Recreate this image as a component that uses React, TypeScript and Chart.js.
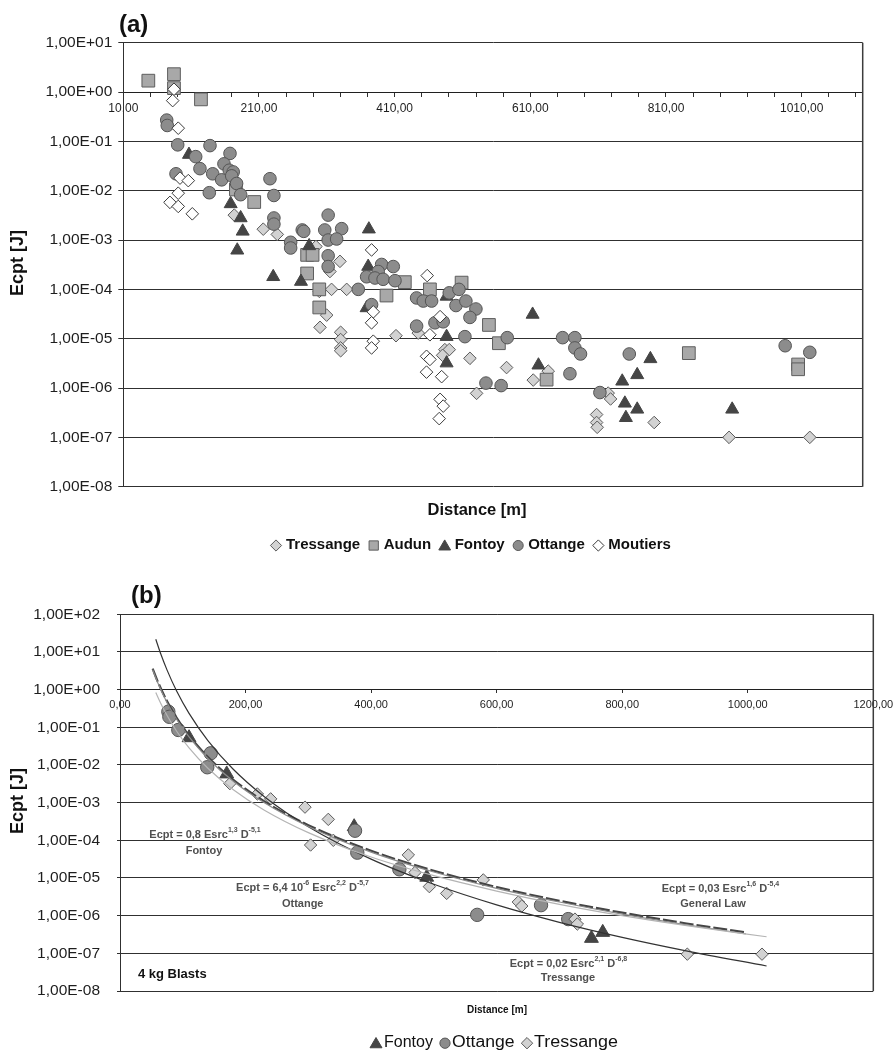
import React, { useEffect, useRef } from 'react';
import { Chart, registerables } from 'chart.js';
Chart.register(...registerables);

const FONT = '"Liberation Sans", Arial, Helvetica, sans-serif';

// ---------------- Panel (a) data ----------------
const tressangeA_x = [173.6, 216.3, 237, 294, 329.4, 314.6, 317, 339.3, 309.8, 300, 330.4, 330.4, 330.4, 330.4, 412, 444.8, 484, 490.5, 480.7, 521, 575, 530.8, 614.3, 636.4, 707.7, 707.7, 708.6, 724.8, 728.3, 792.6, 903, 1022, 299];
const tressangeA_y = [3.2e-3, 1.66e-3, 1.3e-3, 7.4e-4, 3.7e-4, 2.3e-4, 1.0e-4, 1.0e-4, 3.0e-5, 1.7e-5, 1.35e-5, 9.6e-6, 6.5e-6, 5.7e-6, 1.15e-5, 1.3e-5, 6.0e-6, 6.0e-6, 4.6e-6, 4.0e-6, 2.6e-6, 7.8e-7, 1.45e-6, 2.2e-6, 2.9e-7, 2.0e-7, 1.6e-7, 7.9e-7, 6.0e-7, 2.0e-7, 1.0e-7, 1.0e-7, 9.1e-5];

const audunA_x = [46.9, 84.7, 84.7, 124.5, 176, 203, 281, 289, 281, 298.9, 298.9, 398, 425, 462, 508.7, 549, 563.7, 634, 843.7, 1004.8, 1004.8];
const audunA_y = [1.7, 2.3, 1.2, 0.71, 0.0106, 5.9e-3, 5.0e-4, 5.0e-4, 2.1e-4, 1.0e-4, 4.3e-5, 7.5e-5, 1.4e-4, 1.0e-4, 1.37e-4, 1.9e-5, 8.1e-6, 1.48e-6, 5.1e-6, 3.0e-6, 2.4e-6];

const fontoyA_x = [106.8, 168.3, 183, 186, 178, 231, 271.9, 284, 372, 371, 368.7, 486.6, 486.6, 486.6, 613.4, 622, 787, 767.6, 745.5, 749.4, 767.6, 750.9, 907.6];
const fontoyA_y = [0.054, 5.4e-3, 2.8e-3, 1.5e-3, 6.2e-4, 1.8e-4, 1.44e-4, 7.6e-4, 1.66e-3, 2.9e-4, 4.2e-5, 7.2e-5, 1.1e-5, 3.2e-6, 3.1e-5, 2.9e-6, 3.9e-6, 1.85e-6, 1.37e-6, 4.9e-7, 3.7e-7, 2.5e-7, 3.7e-7];

const ottangeA_x = [74, 74.8, 90.2, 137.8, 116.7, 123, 87.7, 141.8, 155, 167.3, 158.4, 166.2, 172, 169.8, 177, 183, 136.8, 226.2, 232, 232, 232, 256.7, 256.7, 273.8, 276, 312, 307, 331.9, 312, 324.5, 312, 312, 356.4, 376, 390.8, 385.8, 368.7, 381, 393, 408, 410.5, 442.4, 452.2, 464.5, 442.4, 469.4, 481.6, 490.5, 504.8, 500.4, 515, 529.8, 521, 513.6, 576, 657.6, 675.7, 675.7, 684, 668.4, 544.6, 567, 755.9, 712.6, 985.7, 1022];
const ottangeA_y = [0.27, 0.21, 0.085, 0.082, 0.049, 0.028, 0.022, 0.022, 0.0166, 0.057, 0.035, 0.026, 0.024, 0.02, 0.014, 8.3e-3, 9.1e-3, 0.0175, 8.0e-3, 2.8e-3, 2.1e-3, 9.0e-4, 6.9e-4, 1.6e-3, 1.5e-3, 3.2e-3, 1.6e-3, 1.7e-3, 1.0e-3, 1.05e-3, 4.8e-4, 2.9e-4, 1.0e-4, 4.9e-5, 3.2e-4, 2.3e-4, 1.8e-4, 1.7e-4, 1.6e-4, 2.9e-4, 1.5e-4, 6.7e-5, 5.8e-5, 5.8e-5, 1.8e-5, 2.1e-5, 2.2e-5, 8.5e-5, 1.0e-4, 4.7e-5, 5.8e-5, 4.0e-5, 2.7e-5, 1.1e-5, 1.05e-5, 1.05e-5, 1.05e-5, 6.5e-6, 4.9e-6, 1.95e-6, 1.26e-6, 1.12e-6, 4.9e-6, 8.1e-7, 7.2e-6, 5.3e-6];

const moutiersA_x = [84.7, 82.8, 91, 93.6, 105.8, 91, 78.8, 91, 111.7, 376, 458, 378.5, 376, 378.5, 376, 477, 462, 457, 462, 457, 479.3, 477, 481.6, 475.7];
const moutiersA_y = [1.14, 0.67, 0.185, 0.018, 0.016, 8.9e-3, 5.8e-3, 4.8e-3, 3.4e-3, 6.3e-4, 1.9e-4, 3.5e-5, 2.1e-5, 8.9e-6, 6.5e-6, 2.8e-5, 1.2e-5, 4.4e-6, 3.8e-6, 2.1e-6, 1.7e-6, 5.9e-7, 4.3e-7, 2.4e-7];

const yTicksA = [1e-8, 1e-7, 1e-6, 1e-5, 1e-4, 1e-3, 1e-2, 1e-1, 1, 10];
const xMajorA = [10, 210, 410, 610, 810, 1010];
const xLabelsA = ['10,00', '210,00', '410,00', '610,00', '810,00', '1010,00'];
const X_MIN_A = 10, X_MAX_A = 1100, X_MINOR_A = 40;

// ---------------- Panel (b) data ----------------
const fontoyB_x = [110, 170, 373, 488.6, 751, 769];
const fontoyB_y = [0.053, 5.8e-3, 2.3e-4, 1.05e-5, 2.5e-7, 3.6e-7];

const ottangeB_x = [77, 78.6, 92.9, 144.5, 139, 374.4, 378, 445, 569, 670.7, 714];
const ottangeB_y = [0.26, 0.19, 0.085, 0.0204, 8.7e-3, 1.8e-4, 4.7e-5, 1.7e-5, 1.05e-6, 1.9e-6, 8.1e-7];

const tressangeB_x = [175, 218.8, 240, 294.7, 331.8, 303.6, 339.8, 459.3, 469.9, 492.8, 520.4, 578.7, 634.5, 640, 724.8, 728.5, 903.7, 1022.7];
const tressangeB_y = [3.2e-3, 1.7e-3, 1.26e-3, 7.6e-4, 3.6e-4, 7.5e-5, 1.0e-4, 4.1e-5, 1.4e-5, 5.9e-6, 3.9e-6, 8.9e-6, 2.3e-6, 1.8e-6, 8.1e-7, 6.0e-7, 9.5e-8, 9.5e-8];

// fitted curves
const lawTressange_x = [57, 65, 75, 90, 110, 140, 180, 230, 300, 400, 500, 600, 700, 800, 900, 1030];
const lawTressange_y = [21.8, 8.8, 3.3, 0.93, 0.234, 0.0443, 7.8e-3, 1.44e-3, 2.3e-4, 3.16e-5, 6.8e-6, 1.93e-6, 6.65e-7, 2.65e-7, 1.18e-7, 4.6e-8];
const lawGeneral_x = [52, 60, 75, 90, 110, 140, 180, 230, 300, 400, 500, 600, 700, 800, 900, 997];
const lawGeneral_y = [3.6, 1.66, 0.49, 0.181, 0.0606, 0.01625, 4.1e-3, 1.08e-3, 2.53e-4, 5.26e-5, 1.56e-5, 5.75e-6, 2.48e-6, 1.2e-6, 6.28e-7, 3.6e-7];
const lawFontoy_x = [57, 65, 75, 90, 110, 140, 180, 230, 300, 400, 500, 600, 700, 800, 900, 1030];
const lawFontoy_y = [0.84, 0.43, 0.205, 0.08, 0.0284, 8.2e-3, 2.24e-3, 6.3e-4, 1.6e-4, 3.6e-5, 1.15e-5, 4.5e-6, 2.0e-6, 1.0e-6, 5.5e-7, 2.75e-7];
const lawOttange_x = [52, 60, 75, 90, 110, 140, 180, 230, 300, 400, 500, 600, 700, 800, 900, 997];
const lawOttange_y = [3.4, 1.55, 0.45, 0.166, 0.0555, 0.0149, 3.75e-3, 9.9e-4, 2.33e-4, 4.85e-5, 1.44e-5, 5.3e-6, 2.3e-6, 1.1e-6, 5.8e-7, 3.3e-7];

const yTicksB = [1e-8, 1e-7, 1e-6, 1e-5, 1e-4, 1e-3, 1e-2, 1e-1, 1, 10, 100];
const xMajorB = [0, 200, 400, 600, 800, 1000, 1200];
const xLabelsB = ['0,00', '200,00', '400,00', '600,00', '800,00', '1000,00', '1200,00'];

const legendA = ['Tressange', 'Audun', 'Fontoy', 'Ottange', 'Moutiers'];
const legendB = ['Fontoy', 'Ottange', 'Tressange'];

// ---------------- helpers ----------------
const pts = (xs: number[], ys: number[]) => xs.map((x, i) => ({ x, y: ys[i] }));

function fmtE(v: number) {
  const e = Math.round(Math.log10(v));
  return '1,00E' + (e >= 0 ? '+' : '-') + String(Math.abs(e)).padStart(2, '0');
}

const STY: Record<string, any> = {
  Tressange: { pointStyle: 'rectRot', backgroundColor: '#d2d2d2', borderColor: '#5a5a5a', borderWidth: 1, pointRadius: 6.3 },
  Audun: { pointStyle: 'rect', backgroundColor: '#a8a8a8', borderColor: '#5e5e5e', borderWidth: 1, pointRadius: 9 },
  Fontoy: { pointStyle: 'triangle', backgroundColor: '#454545', borderColor: '#454545', borderWidth: 1, pointRadius: 7.5 },
  Ottange: { pointStyle: 'circle', backgroundColor: '#8c8c8c', borderColor: '#555555', borderWidth: 1, pointRadius: 6.3 },
  Moutiers: { pointStyle: 'rectRot', backgroundColor: '#ffffff', borderColor: '#3a3a3a', borderWidth: 1, pointRadius: 6.3 },
};

function drawMarker(ctx: CanvasRenderingContext2D, name: string, x: number, y: number, s: number) {
  const st = STY[name];
  ctx.save();
  ctx.fillStyle = st.backgroundColor;
  ctx.strokeStyle = st.borderColor;
  ctx.lineWidth = 1;
  ctx.beginPath();
  if (st.pointStyle === 'rectRot') {
    ctx.moveTo(x, y - s); ctx.lineTo(x + s, y); ctx.lineTo(x, y + s); ctx.lineTo(x - s, y); ctx.closePath();
  } else if (st.pointStyle === 'rect') {
    ctx.rect(x - s * 0.8, y - s * 0.8, s * 1.6, s * 1.6);
  } else if (st.pointStyle === 'triangle') {
    ctx.moveTo(x, y - s); ctx.lineTo(x + s * 1.05, y + s * 0.8); ctx.lineTo(x - s * 1.05, y + s * 0.8); ctx.closePath();
  } else {
    ctx.arc(x, y, s * 0.9, 0, Math.PI * 2);
  }
  ctx.fill(); ctx.stroke();
  ctx.restore();
}

function drawRich(ctx: CanvasRenderingContext2D, parts: [string, boolean][], cx: number, cy: number, size: number, color: string) {
  const base = `bold ${size}px ${FONT}`;
  const sup = `bold ${Math.round(size * 0.64)}px ${FONT}`;
  ctx.save();
  ctx.fillStyle = color;
  ctx.textAlign = 'left';
  ctx.textBaseline = 'middle';
  let w = 0;
  for (const [t, s] of parts) { ctx.font = s ? sup : base; w += ctx.measureText(t).width; }
  let x = cx - w / 2;
  for (const [t, s] of parts) {
    ctx.font = s ? sup : base;
    ctx.fillText(t, x, s ? cy - size * 0.42 : cy);
    x += ctx.measureText(t).width;
  }
  ctx.restore();
}

function drawText(ctx: CanvasRenderingContext2D, t: string, x: number, y: number, font: string, color: string, align: CanvasTextAlign = 'center', rot = 0, sx = 1) {
  ctx.save();
  ctx.font = font;
  ctx.fillStyle = color;
  ctx.textAlign = align;
  ctx.textBaseline = 'middle';
  ctx.translate(x, y);
  if (rot) ctx.rotate(rot);
  if (sx !== 1) ctx.scale(sx, 1);
  ctx.fillText(t, 0, 0);
  ctx.restore();
}

const framePlugin = {
  id: 'frame',
  beforeDatasetsDraw(chart: any) {
    const { ctx, chartArea: a } = chart;
    ctx.save();
    ctx.strokeStyle = '#3c3c3c';
    ctx.lineWidth = 1.5;
    ctx.beginPath();
    ctx.moveTo(a.right, a.top); ctx.lineTo(a.right, a.bottom);
    ctx.stroke();
    ctx.restore();
  },
};

function yScale(ticks: number[], min: number, max: number, width: number, pad: number, tl: number) {
  return {
    type: 'logarithmic',
    position: 'left',
    min, max,
    afterBuildTicks: (s: any) => { s.ticks = ticks.map((v) => ({ value: v })); },
    afterFit: (s: any) => { s.width = width; },
    ticks: { autoSkip: false, padding: pad, color: '#1e1e1e', font: { family: FONT, size: 15.5 }, callback: (v: any) => fmtE(Number(v)) },
    grid: { color: '#303030', lineWidth: 1, tickLength: tl, tickColor: '#303030' },
    border: { color: '#303030', width: 1 },
  };
}

function configA(): any {
  const ds = (name: string, xs: number[], ys: number[], order: number) => ({
    label: name, data: pts(xs, ys), order, ...STY[name], pointHoverRadius: STY[name].pointRadius,
  });
  return {
    type: 'scatter',
    data: {
      datasets: [
        ds('Tressange', tressangeA_x, tressangeA_y, 5),
        ds('Audun', audunA_x, audunA_y, 4),
        ds('Fontoy', fontoyA_x, fontoyA_y, 3),
        ds('Ottange', ottangeA_x, ottangeA_y, 2),
        ds('Moutiers', moutiersA_x, moutiersA_y, 1),
      ],
    },
    options: {
      responsive: false,
      animation: false,
      events: [],
      layout: { padding: { left: 0, top: 42.7, right: 32.3, bottom: 78.3 } },
      plugins: { legend: { display: false }, tooltip: { enabled: false } },
      scales: {
        x: {
          type: 'linear',
          position: { y: 1 },
          min: X_MIN_A, max: X_MAX_A,
          afterBuildTicks: (s: any) => {
            const t = [];
            for (let v = X_MIN_A; v <= X_MAX_A; v += X_MINOR_A) t.push({ value: v });
            s.ticks = t;
          },
          afterFit: (s: any) => { s.paddingLeft = 0; s.paddingRight = 0; },
          ticks: {
            autoSkip: false, maxRotation: 0, padding: 5, color: '#1e1e1e', font: { family: FONT, size: 12 },
            callback: (v: any) => { const i = xMajorA.indexOf(Number(v)); return i >= 0 ? xLabelsA[i] : ''; },
          },
          grid: { drawOnChartArea: false, tickLength: 4, color: '#303030', tickColor: '#303030' },
          border: { color: '#202020', width: 1 },
        },
        y: yScale(yTicksA, 1e-8, 10, 123.3, 6, 5),
      },
    },
    plugins: [
      framePlugin,
      {
        id: 'decorA',
        afterDraw(chart: any) {
          const ctx = chart.ctx as CanvasRenderingContext2D;
          drawText(ctx, '(a)', 119, 25, `bold 24px ${FONT}`, '#111', 'left');
          drawText(ctx, 'Ecpt [J]', 18, 263, `bold 18px ${FONT}`, '#111', 'center', -Math.PI / 2);
          drawText(ctx, 'Distance [m]', 477, 510, `bold 16.5px ${FONT}`, '#111');
          // legend
          ctx.save();
          ctx.font = `bold 15px ${FONT}`;
          let x = 276;
          const y = 545;
          for (const name of legendA) {
            drawMarker(ctx, name, x, y + 0.5, name === 'Audun' ? 5.8 : 5.6);
            const tx = x + 10;
            drawText(ctx, name, tx, y, `bold 15px ${FONT}`, '#111', 'left');
            ctx.font = `bold 15px ${FONT}`;
            x = tx + ctx.measureText(name).width + 13.5;
          }
          ctx.restore();
        },
      },
    ],
  };
}

function configB(): any {
  const ds = (name: string, xs: number[], ys: number[], order: number, r: number) => ({
    label: name, data: pts(xs, ys), order, ...STY[name], pointRadius: r, pointHoverRadius: r,
  });
  const law = (name: string, xs: number[], ys: number[], color: string, width: number, dash: number[]) => ({
    label: name, data: pts(xs, ys), order: 0, showLine: true, pointRadius: 0, pointHoverRadius: 0,
    borderColor: color, borderWidth: width, borderDash: dash, tension: 0.4, cubicInterpolationMode: 'monotone', fill: false,
  });
  return {
    type: 'scatter',
    data: {
      datasets: [
        ds('Fontoy', fontoyB_x, fontoyB_y, 3, 8),
        ds('Ottange', ottangeB_x, ottangeB_y, 2, 6.7),
        ds('Tressange', tressangeB_x, tressangeB_y, 1, 6.2),
        law('Fontoy law', lawFontoy_x, lawFontoy_y, '#b4b4b4', 1.2, []),
        law('Ottange law', lawOttange_x, lawOttange_y, '#8a8a8a', 1.2, []),
        law('Tressange law', lawTressange_x, lawTressange_y, '#333333', 1.2, []),
        law('General Law', lawGeneral_x, lawGeneral_y, '#454545', 2.2, [14, 3]),
      ],
    },
    options: {
      responsive: false,
      animation: false,
      events: [],
      layout: { padding: { left: 0, top: 49.3, right: 21.7, bottom: 61 } },
      plugins: { legend: { display: false }, tooltip: { enabled: false } },
      scales: {
        x: {
          type: 'linear',
          position: { y: 1 },
          min: 0, max: 1200,
          afterBuildTicks: (s: any) => { s.ticks = xMajorB.map((v) => ({ value: v })); },
          afterFit: (s: any) => { s.paddingLeft = 0; s.paddingRight = 0; },
          ticks: {
            autoSkip: false, maxRotation: 0, padding: 6, color: '#1e1e1e', font: { family: FONT, size: 11 },
            callback: (v: any) => { const i = xMajorB.indexOf(Number(v)); return i >= 0 ? xLabelsB[i] : ''; },
          },
          grid: { drawOnChartArea: false, tickLength: 3, color: '#303030', tickColor: '#303030' },
          border: { color: '#202020', width: 1 },
        },
        y: yScale(yTicksB, 1e-8, 100, 120, 17, 3),
      },
    },
    plugins: [
      framePlugin,
      {
        id: 'decorB',
        afterDraw(chart: any) {
          const ctx = chart.ctx as CanvasRenderingContext2D;
          const c = '#505050';
          drawText(ctx, '(b)', 131, 31, `bold 24px ${FONT}`, '#111', 'left');
          drawText(ctx, 'Ecpt [J]', 18, 236, `bold 18px ${FONT}`, '#111', 'center', -Math.PI / 2);
          drawText(ctx, 'Distance [m]', 497, 445, `bold 10px ${FONT}`, '#111');
          drawRich(ctx, [['Ecpt = 0,8 Esrc', false], ['1,3', true], [' D', false], ['-5,1', true]], 205, 270, 11, c);
          drawText(ctx, 'Fontoy', 204, 285.7, `bold 11px ${FONT}`, c);
          drawRich(ctx, [['Ecpt = 6,4 10', false], ['-6', true], [' Esrc', false], ['2,2', true], [' D', false], ['-5,7', true]], 302.5, 323, 11, c);
          drawText(ctx, 'Ottange', 302.7, 339, `bold 11px ${FONT}`, c);
          drawRich(ctx, [['Ecpt = 0,03 Esrc', false], ['1,6', true], [' D', false], ['-5,4', true]], 720.5, 324, 11, c);
          drawText(ctx, 'General Law', 713, 339, `bold 11px ${FONT}`, c);
          drawRich(ctx, [['Ecpt = 0,02 Esrc', false], ['2,1', true], [' D', false], ['-6,8', true]], 568.5, 399, 11, c);
          drawText(ctx, 'Tressange', 568, 413, `bold 11px ${FONT}`, c);
          drawText(ctx, '4 kg Blasts', 138, 409, `bold 13px ${FONT}`, '#111', 'left');
          // legend
          const y = 477.7;
          const mx = [376, 445, 527];
          const tx = [384, 452, 534];
          const sx = [1, 1.1, 1.12];
          legendB.forEach((name, i) => {
            drawMarker(ctx, name, mx[i], y + 0.5, 5.7);
            drawText(ctx, name, tx[i], y, `16px ${FONT}`, '#111', 'left', 0, sx[i]);
          });
        },
      },
    ],
  };
}

export default function App() {
  const refA = useRef<HTMLCanvasElement>(null);
  const refB = useRef<HTMLCanvasElement>(null);
  useEffect(() => {
    const a = new Chart(refA.current as HTMLCanvasElement, configA());
    const b = new Chart(refB.current as HTMLCanvasElement, configB());
    return () => { a.destroy(); b.destroy(); };
  }, []);
  return (
    <div style={{ position: 'absolute', left: 0, top: 0, width: 895, height: 1052, background: '#fff', overflow: 'hidden' }}>
      <canvas ref={refA} width={895} height={565} style={{ position: 'absolute', left: 0, top: 0, width: 895, height: 565 }} />
      <canvas ref={refB} width={895} height={487} style={{ position: 'absolute', left: 0, top: 565, width: 895, height: 487 }} />
    </div>
  );
}
